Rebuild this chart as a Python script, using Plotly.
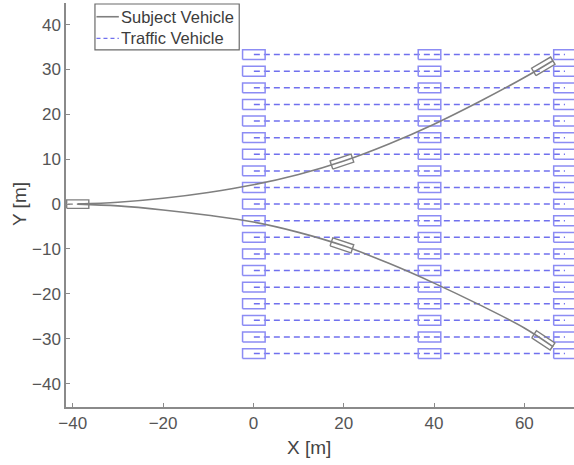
import numpy as np
import plotly.graph_objects as go

# ---------------- data ----------------
subj_x = [-38.9, -30, -20, -10, 0, 10, 20, 30, 40, 50, 60, 66.4]
subj_up_y = [0, 0.4, 1.3, 2.6, 4.3, 6.6, 9.6, 13.4, 17.8, 22.8, 28.2, 32.0]
subj_dn_y = [0, -0.4, -1.3, -2.5, -4.0, -6.3, -9.3, -13.2, -17.6, -22.4, -27.6, -31.8]
subj_start = (-38.9, 0.0)
subj_box_x = [19.6, 64.2]

lane_y = [-33.3, -29.6, -25.9, -22.2, -18.5, -14.8, -11.1, -7.4, -3.7, 0.0,
          3.7, 7.4, 11.1, 14.8, 18.5, 22.2, 25.9, 29.6, 33.3]
traffic_x = [0.1, 39.0, 69.0]

x_ticks = [-40, -20, 0, 20, 40, 60]
y_ticks = [-40, -30, -20, -10, 0, 10, 20, 30, 40]

# ---------------- style ----------------
CAR_L, CAR_W = 4.9, 1.9
T_L, T_W = 5.0, 2.2
GRAY = "#7f7f7f"
BLUE_BOX = "#8c8cf4"
BLUE_LINE = "#7070ee"
FONT = "Liberation Sans, Arial, sans-serif"


def rect(cx, cy, L, W, th=0.0):
    c, s = np.cos(th), np.sin(th)
    pts = [(-L / 2, -W / 2), (L / 2, -W / 2), (L / 2, W / 2), (-L / 2, W / 2), (-L / 2, -W / 2)]
    xs = [cx + px * c - py * s for px, py in pts]
    ys = [cy + px * s + py * c for px, py in pts]
    return xs, ys


fig = go.Figure()

# traffic vehicles: trajectories
lx, ly = [], []
for y in lane_y:
    lx += [traffic_x[0], traffic_x[-1], None]
    ly += [y, y, None]
fig.add_trace(go.Scatter(x=lx, y=ly, mode="lines", showlegend=False, hoverinfo="skip",
                         line=dict(color=BLUE_LINE, width=1.5, dash="6px,4px")))

# traffic vehicles: boxes
bx, by = [], []
for y in lane_y:
    for x in traffic_x:
        xs, ys = rect(x, y, T_L, T_W)
        bx += xs + [None]
        by += ys + [None]
fig.add_trace(go.Scatter(x=bx, y=by, mode="lines", showlegend=False, hoverinfo="skip",
                         line=dict(color=BLUE_BOX, width=1.5)))

# subject trajectories
for yy in (subj_up_y, subj_dn_y):
    fig.add_trace(go.Scatter(x=subj_x, y=yy, mode="lines", showlegend=False, hoverinfo="skip",
                             line=dict(color=GRAY, width=1.6, shape="spline")))

# subject boxes
sx, sy = [], []
xs, ys = rect(subj_start[0], subj_start[1], CAR_L, CAR_W)
sx += xs + [None]
sy += ys + [None]
for yy in (subj_up_y, subj_dn_y):
    for bxv in subj_box_x:
        cy = float(np.interp(bxv, subj_x, yy))
        slope = (np.interp(bxv + 2, subj_x, yy) - np.interp(bxv - 2, subj_x, yy)) / 4.0
        th = np.arctan(slope)
        xs, ys = rect(bxv, cy, CAR_L, CAR_W, th)
        sx += xs + [None]
        sy += ys + [None]
fig.add_trace(go.Scatter(x=sx, y=sy, mode="lines", showlegend=False, hoverinfo="skip",
                         line=dict(color=GRAY, width=1.4)))
# dashed centerline inside the start box
fig.add_trace(go.Scatter(x=[subj_start[0] - 2.2, subj_start[0] + 1.3], y=[0, 0], mode="lines",
                         showlegend=False, hoverinfo="skip",
                         line=dict(color=GRAY, width=1.2, dash="5px,4px")))

# ---------------- custom legend ----------------
L_X0, L_X1, L_Y0, L_Y1 = 0.057, 0.341, 0.884, 0.9975
shapes = [
    dict(type="rect", xref="paper", yref="paper", x0=L_X0, x1=L_X1, y0=L_Y0, y1=L_Y1,
         line=dict(color="#6a6a6a", width=1.2), fillcolor="white", layer="above"),
    dict(type="line", xref="paper", yref="paper", x0=0.060, x1=0.104, y0=0.966, y1=0.966,
         line=dict(color=GRAY, width=1.6), layer="above"),
    dict(type="line", xref="paper", yref="paper", x0=0.060, x1=0.104, y0=0.9125, y1=0.9125,
         line=dict(color=BLUE_LINE, width=1.4, dash="4px,3px"), layer="above"),
]
TXT = "#3c3c3c"
annotations = [
    dict(xref="paper", yref="paper", x=0.104, y=0.966, text="Subject Vehicle", showarrow=False,
         xanchor="left", yanchor="middle", font=dict(family=FONT, size=16.5, color=TXT)),
    dict(xref="paper", yref="paper", x=0.104, y=0.9125, text="Traffic Vehicle", showarrow=False,
         xanchor="left", yanchor="middle", font=dict(family=FONT, size=16.5, color=TXT)),
    # axis titles
    dict(xref="paper", yref="paper", x=(309 - 66) / 508, y=(407 - 447) / 404, text="X [m]",
         showarrow=False, xanchor="center", yanchor="middle",
         font=dict(family=FONT, size=19, color="#444444")),
    dict(xref="paper", yref="paper", x=(19 - 66) / 508, y=(407 - 204) / 404, text="Y [m]",
         showarrow=False, xanchor="center", yanchor="middle", textangle=-90,
         font=dict(family=FONT, size=19, color="#444444")),
]

axis_common = dict(showgrid=False, zeroline=False, showline=True, linecolor="#8a8a8a", linewidth=1.5,
                   ticks="inside", ticklen=4, tickcolor="#8a8a8a", tickwidth=1, automargin=False,
                   tickfont=dict(family=FONT, size=17, color="#555555"))

fig.update_layout(
    width=574, height=465,
    margin=dict(l=66, r=0, t=3, b=58, autoexpand=False),
    plot_bgcolor="white", paper_bgcolor="white",
    showlegend=False,
    shapes=shapes, annotations=annotations,
    xaxis=dict(range=[-41.5, 71.0], tickvals=x_ticks, **axis_common),
    yaxis=dict(range=[-45.2, 44.8], tickvals=y_ticks, **axis_common),
)

fig.write_html("out.html", config={"displayModeBar": False},
               post_script="document.body.style.margin='0px';document.body.style.overflow='hidden';")
